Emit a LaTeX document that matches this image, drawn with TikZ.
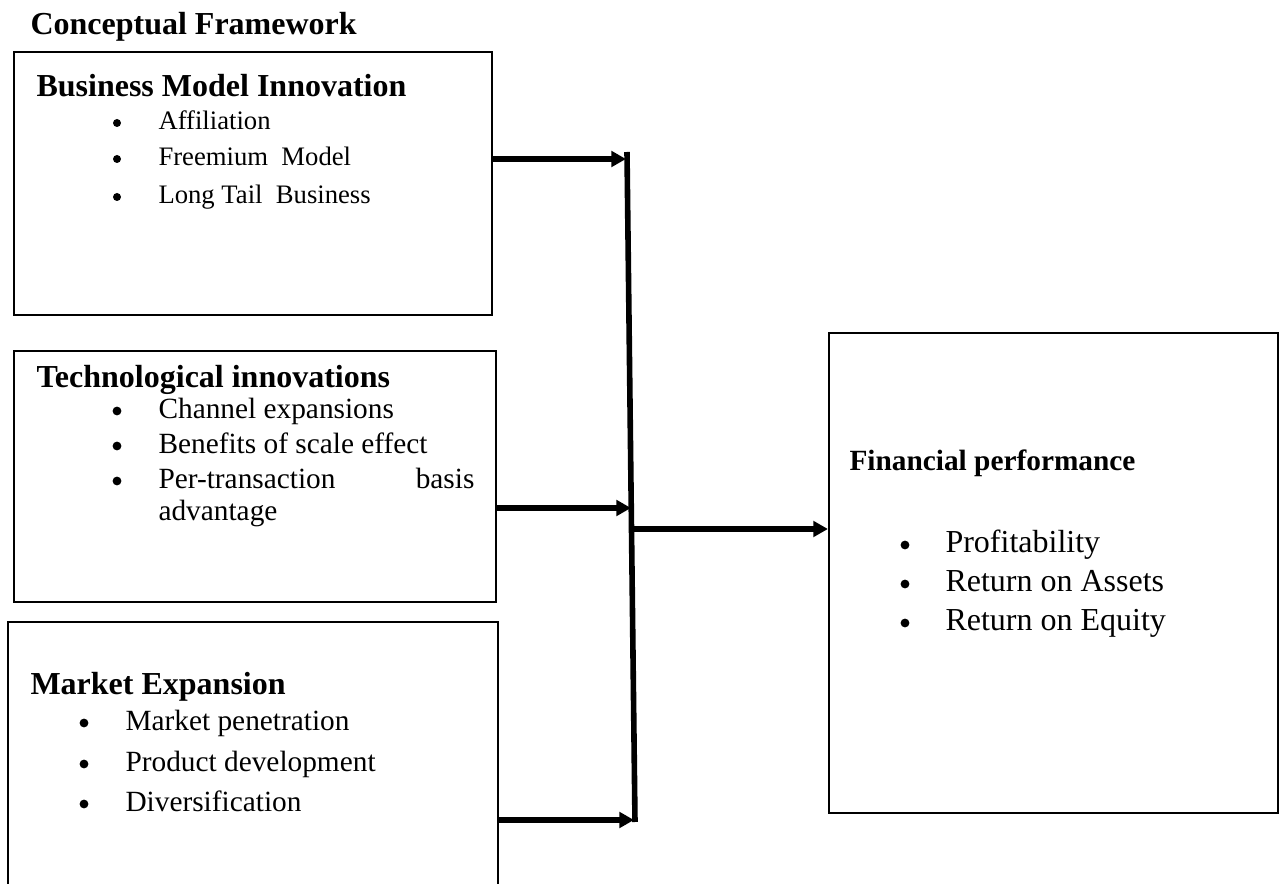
\documentclass[tikz,border=0pt]{standalone}
\usepackage{fontspec}
\setmainfont{Liberation Serif}
\usetikzlibrary{arrows.meta,fit}
\begin{document}
\begin{tikzpicture}[x=0.375pt,y=-0.375pt,
  box/.style={draw,line width=0.8pt,inner sep=0pt},
  head/.style={anchor=base west,inner sep=0pt,font=\fontsize{12}{14}\selectfont\bfseries},
  smallhead/.style={anchor=base west,inner sep=0pt,font=\fontsize{11}{13}\selectfont\bfseries},
  item/.style={anchor=base west,inner sep=0pt,font=\fontsize{11}{13}\selectfont},
  smallitem/.style={anchor=base west,inner sep=0pt,font=\fontsize{10}{12}\selectfont},
  bigitem/.style={anchor=base west,inner sep=0pt,font=\fontsize{12}{14}\selectfont},
  dot/.style={circle,fill,inner sep=0pt,minimum size=3.3pt},
  smalldot/.style={circle,fill,inner sep=0pt,minimum size=3pt},
  arr/.style={line width=1.9pt,-{Triangle[length=5.5pt,width=5.8pt]}},
  bar/.style={line width=2.1pt}]
\useasboundingbox (0,0) rectangle (1280,884);

% title
\node[head] (title) at (30,35) {Conceptual Framework};

% boxes
\node[box,fit={(14,52)(492,315)}] (b1) {};
\node[box,fit={(14,351)(496,602)}] (b2) {};
\begin{scope}
\clip (0,0) rectangle (1280,884);
\node[box,fit={(8,622)(498,940)}] (b3) {};
\end{scope}
\node[box,fit={(829,333)(1278,813)}] (b4) {};

% box 1
\node[head] (h1) at (36,97) {Business Model Innovation};
\node[smalldot] (p11) at (117,123) {};
\node[smallitem] (t11) at (158,130) {Affiliation};
\node[smalldot] (p12) at (117,159) {};
\node[smallitem] (t12) at (158,166) {Freemium\ \ Model};
\node[smalldot] (p13) at (117,197) {};
\node[smallitem] (t13) at (158,204) {Long Tail\ \ Business};

% box 2
\node[head] (h2) at (36,388) {Technological innovations};
\node[dot] (p21) at (117,411) {};
\node[item] (t21) at (158,419) {Channel expansions};
\node[dot] (p22) at (117,446) {};
\node[item] (t22) at (158,454) {Benefits of scale effect};
\node[dot] (p23) at (117,481) {};
\node[item] (t23) at (158,489) {Per-transaction};
\node[item,anchor=base east] (t23b) at (475,489) {basis};
\node[item] (t24) at (158,521) {advantage};

% box 3
\node[head] (h3) at (30,695) {Market Expansion};
\node[dot] (p31) at (84,723) {};
\node[item] (t31) at (125,731) {Market penetration};
\node[dot] (p32) at (84,764) {};
\node[item] (t32) at (125,772) {Product development};
\node[dot] (p33) at (84,804) {};
\node[item] (t33) at (125,812) {Diversification};

% box 4
\node[smallhead] (h4) at (849,471) {Financial performance};
\node[dot] (p41) at (905,545) {};
\node[bigitem] (t41) at (945,553) {Profitability};
\node[dot] (p42) at (905,584) {};
\node[bigitem] (t42) at (945,592) {Return on Assets};
\node[dot] (p43) at (905,623) {};
\node[bigitem] (t43) at (945,631) {Return on Equity};

% connectors
\coordinate (vtop) at (627,152);
\coordinate (vbot) at (635,822);
\coordinate (v1) at (626,159);
\coordinate (v2) at (631,508);
\coordinate (v3) at (634,820);
\coordinate (vout) at (633,529);
\draw[bar] (vtop) -- (vbot);
\draw[arr] (v1 -| b1.east) -- (v1);
\draw[arr] (v2 -| b2.east) -- (v2);
\draw[arr] (v3 -| b3.east) -- (v3);
\draw[arr] (vout) -- (vout -| b4.west);
\end{tikzpicture}
\end{document}
